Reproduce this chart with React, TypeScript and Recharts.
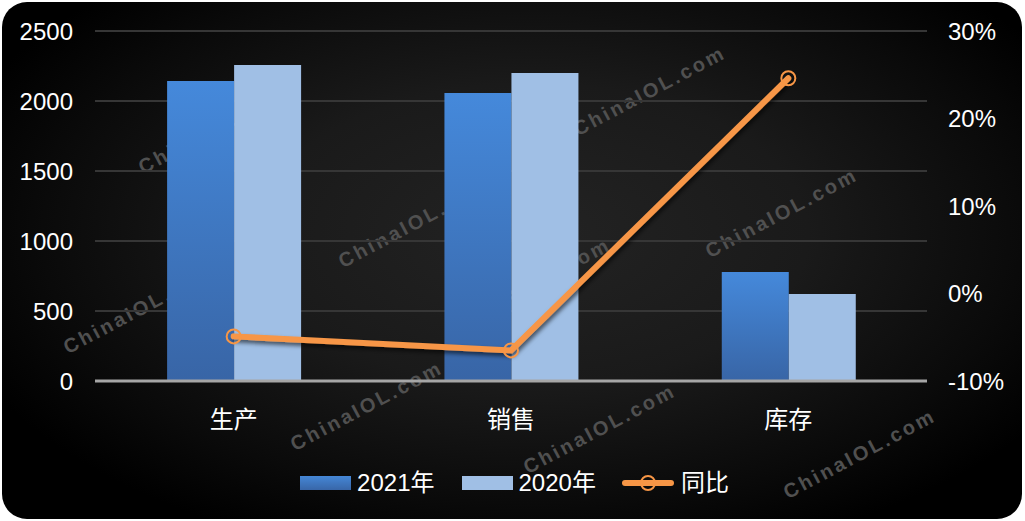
import React from 'react';
import { ComposedChart, Bar, Line, XAxis, YAxis, CartesianGrid, Legend } from 'recharts';

const categories = ['生产', '销售', '库存'];
const values2021 = [2143, 2057, 779];
const values2020 = [2257, 2200, 621];
const yoyPercent = [-4.9, -6.5, 24.6];
const leftTicks = [0, 500, 1000, 1500, 2000, 2500];
const rightTicks = [-10, 0, 10, 20, 30];
const seriesNames = ['2021年', '2020年', '同比'];
const watermarkText = 'ChinaIOL.com';

const data = categories.map((name, i) => ({
  name,
  y2021: values2021[i],
  y2020: values2020[i],
  yoy: yoyPercent[i],
}));

// watermark spots (bottom-left start of the text)
const marks = [
  [145, 178], [70, 358], [345, 272], [465, 332], [297, 455],
  [580, 140], [712, 262], [530, 478], [790, 503],
];

const FONT = '"Liberation Sans", Arial, "Noto Sans CJK SC", sans-serif';
const ORANGE = '#F79646';

const HollowDot = (props: any) => {
  const { cx, cy } = props;
  if (cx == null || cy == null) return null;
  return <circle cx={cx} cy={cy} r={7} fill="none" stroke={ORANGE} strokeWidth={2} />;
};

const renderLegend = () => (
  <div style={{ display: 'flex', justifyContent: 'center', alignItems: 'center', paddingTop: 10, paddingLeft: 4, fontFamily: FONT, fontSize: 24, color: '#fff', lineHeight: '24px' }}>
    <span style={{ display: 'inline-block', width: 51, height: 14, background: 'linear-gradient(#4587D6, #3866A8)', marginRight: 6 }} />
    <span style={{ marginRight: 27 }}>{seriesNames[0]}</span>
    <span style={{ display: 'inline-block', width: 51, height: 14, background: '#A0BFE5', marginRight: 6 }} />
    <span style={{ marginRight: 26 }}>{seriesNames[1]}</span>
    <svg width={52} height={20} style={{ marginRight: 7 }}>
      <line x1={3} y1={10} x2={49} y2={10} stroke={ORANGE} strokeWidth={6} strokeLinecap="round" />
      <circle cx={26} cy={10} r={7} fill="none" stroke={ORANGE} strokeWidth={2} />
    </svg>
    <span>{seriesNames[2]}</span>
  </div>
);

export default function App() {
  return (
    <div style={{ position: 'absolute', left: 0, top: 0, width: 1025, height: 521, background: '#fff' }}>
      <div
        style={{
          position: 'absolute', left: 2, top: 2, width: 1020, height: 517, borderRadius: 25, overflow: 'hidden',
          background: 'radial-gradient(ellipse 60% 65% at 52% 45%, #232323 0%, #1a1a1a 45%, #0a0a0a 80%, #000 100%)',
        }}
      >
        {marks.map(([x, y], i) => (
          <div
            key={i}
            style={{
              position: 'absolute', left: x - 2, top: y - 2 - 22, height: 22, lineHeight: '22px',
              transform: 'rotate(-28deg)', transformOrigin: '0 100%', whiteSpace: 'nowrap',
              fontFamily: FONT, fontWeight: 'bold', fontSize: 20, letterSpacing: 2.8, color: '#505050',
            }}
          >
            {watermarkText}
          </div>
        ))}
      </div>
      <ComposedChart
        width={1025}
        height={521}
        data={data}
        margin={{ top: 31, right: 0, bottom: 0, left: 0 }}
        barCategoryGap="26%"
        barGap={0}
        style={{ position: 'absolute', left: 0, top: 0, fontFamily: FONT }}
      >
        <defs>
          <linearGradient id="g2021" x1="0" y1="0" x2="0" y2="1">
            <stop offset="0%" stopColor="#4589DB" />
            <stop offset="100%" stopColor="#3865A6" />
          </linearGradient>
          <filter id="lineShadow" x="-10%" y="-10%" width="120%" height="130%">
            <feDropShadow dx="1.5" dy="3" stdDeviation="2" floodColor="#000" floodOpacity="0.6" />
          </filter>
        </defs>
        <CartesianGrid yAxisId="left" vertical={false} stroke="#363636" strokeWidth={2} />
        <XAxis
          dataKey="name"
          height={80}
          tickLine={false}
          tickSize={0}
          tickMargin={30}
          axisLine={{ stroke: '#a6a6a6', strokeWidth: 3 }}
          tick={{ fill: '#fff', fontSize: 24 }}
        />
        <YAxis
          yAxisId="left"
          orientation="left"
          width={95}
          domain={[0, 2500]}
          ticks={leftTicks}
          axisLine={false}
          tickLine={false}
          tickSize={0}
          tickMargin={22}
          tick={{ fill: '#fff', fontSize: 24 }}
        />
        <YAxis
          yAxisId="right"
          orientation="right"
          width={98}
          domain={[-10, 30]}
          ticks={rightTicks}
          tickFormatter={(v: number) => `${v}%`}
          axisLine={false}
          tickLine={false}
          tickSize={0}
          tickMargin={21}
          tick={{ fill: '#fff', fontSize: 24 }}
        />
        <Legend verticalAlign="bottom" height={60} content={renderLegend} wrapperStyle={{ left: 0, width: 1025, bottom: 0, height: 60 }} />
        <Bar yAxisId="left" dataKey="y2021" name={seriesNames[0]} fill="url(#g2021)" isAnimationActive={false} />
        <Bar yAxisId="left" dataKey="y2020" name={seriesNames[1]} fill="#A0BFE5" isAnimationActive={false} />
        <Line
          yAxisId="right"
          type="linear"
          dataKey="yoy"
          name={seriesNames[2]}
          stroke={ORANGE}
          strokeWidth={6}
          strokeLinecap="round"
          filter="url(#lineShadow)"
          dot={<HollowDot />}
          activeDot={false}
          isAnimationActive={false}
        />
      </ComposedChart>
    </div>
  );
}
